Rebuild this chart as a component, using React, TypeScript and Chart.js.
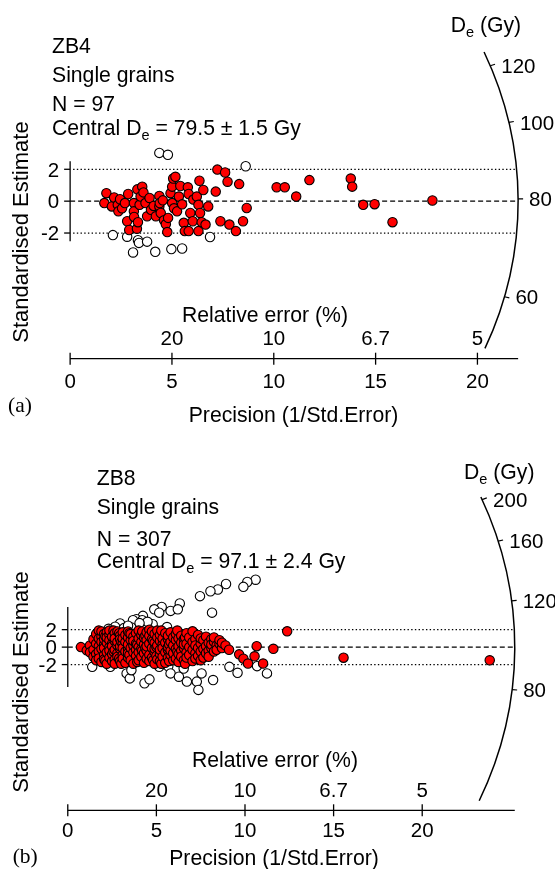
import { useEffect, useRef } from "react";
import { Chart, registerables } from "chart.js";

Chart.register(...registerables);

const W = 555;
const H = 869;
const SANS = '"Liberation Sans", Arial, Helvetica, sans-serif';
const SERIF = '"Liberation Serif", "Times New Roman", serif';

// ---------- ZB4 : [precision, standardised estimate] ----------
const zb4Accepted: [number, number][] = [
  [1.68, -0.12], [1.78, 0.5], [2.05, -0.33], [2.16, 0.23], [2.34, -0.23], [2.37, -0.64], [2.45, 0.12], [2.55, -0.45],
  [2.69, -0.12], [2.8, -1.26], [2.85, 0.45], [2.9, -1.81], [3.13, -0.12], [3.13, -0.64], [3.14, -0.99], [3.28, -1.73],
  [3.3, 0.74], [3.33, -1.32], [3.41, -0.23], [3.46, 0.29], [3.54, 0.91], [3.6, 0.55], [3.7, -0.12], [3.78, -0.95],
  [3.9, 0.2], [3.97, -0.54], [4.1, -0.3], [4.21, -0.95], [4.38, 0.33], [4.38, -0.33], [4.4, -0.12], [4.45, -0.74],
  [4.55, 0.05], [4.61, -1.2], [4.7, -1.45], [4.77, -1.94], [4.81, -1.05], [4.93, 0.5], [5.01, 0.91], [5.01, -0.12],
  [5.06, 1.42], [5.1, -0.45], [5.17, 1.53], [5.25, -0.64], [5.34, 0.29], [5.41, 0.95], [5.5, -0.2], [5.58, -1.36],
  [5.63, -1.88], [5.78, 0.87], [5.82, 0.45], [5.82, -1.88], [5.9, -0.74], [6.02, -1.26], [6.05, 0.1], [6.22, 0.29],
  [6.3, -0.23], [6.3, -1.88], [6.35, 1.28], [6.38, -0.74], [6.46, -1.32], [6.54, 0.7], [6.65, -1.47], [6.78, -0.33],
  [7.15, 0.6], [7.23, 1.98], [7.38, -1.26], [7.61, 1.8], [7.73, 1.22], [7.82, -1.47], [8.14, -1.88], [8.3, 1.07],
  [8.49, -1.26], [8.67, -0.43], [10.14, 0.87], [10.54, 0.87], [11.1, 0.29], [11.75, 1.32], [13.78, 1.42], [13.85, 0.91],
  [14.39, -0.23], [14.95, -0.19], [15.83, -1.32], [17.79, 0.04],
];
const zb4Rejected: [number, number][] = [
  [4.38, 3.03], [4.8, 2.91], [8.62, 2.19], [2.1, -2.13], [2.8, -2.23], [3.33, -2.45], [3.38, -2.62],
  [3.78, -2.54], [3.09, -3.22], [4.18, -3.18], [4.97, -3.01], [5.5, -2.97], [6.87, -2.25],
];
const zb4N = 97;
const zb4Central = 79.5;
const zb4CentralErr = 1.5;
const zb4DeTicks = [60, 80, 100, 120];
const zb4ArcRange: [number, number] = [50.5, 126];

// ---------- ZB8 : [precision, standardised estimate] ----------
const zb8Accepted: [number, number][] = [
  [0.74, 0.0], [1.07, -0.37], [1.25, 0.2], [1.25, -0.6],
  [1.45, 0.9], [1.45, -0.3], [1.45, -1.1],
  [1.6, 1.5], [1.6, 0.4], [1.6, -0.8], [1.6, -1.5],
  [1.75, 1.9], [1.75, 0.1], [1.75, -0.5], [1.75, 1.0], [1.75, -1.3],
  [1.9, 1.2], [1.9, -0.2], [1.9, 0.6], [1.9, -1.7], [1.9, 1.8],
  [2.05, 0.3], [2.05, -0.9], [2.05, 1.5], [2.05, -1.4], [2.05, 0.9], [2.05, -0.1],
  [2.12, 1.25], [2.12, -1.55],
  [2.2, 1.7], [2.2, -0.6], [2.2, 0.5], [2.2, -1.9], [2.2, 1.1],
  [2.35, 0.0], [2.35, 1.4], [2.35, -1.2], [2.35, 0.8], [2.35, -0.4], [2.35, 1.9],
  [2.5, -1.6], [2.5, 0.4], [2.5, 1.2], [2.5, -0.8], [2.5, 0.1],
  [2.58, 1.9], [2.58, -0.5],
  [2.65, 1.6], [2.65, -0.3], [2.65, 0.7], [2.65, -1.4], [2.65, 1.0], [2.65, -1.9],
  [2.8, 0.2], [2.8, -0.7], [2.8, 1.8], [2.8, -1.1], [2.8, 0.6],
  [2.9, 1.6], [2.9, -1.3],
  [2.95, -0.2], [2.95, 1.3], [2.95, -1.6], [2.95, 0.9], [2.95, 0.1],
  [3.02, 0.6], [3.02, -1.9],
  [3.1, 1.7], [3.1, -0.9], [3.1, 0.4], [3.1, -1.3], [3.1, -0.1], [3.1, 1.0],
  [3.25, 0.6], [3.25, -1.8], [3.25, 1.4], [3.25, -0.5],
  [3.4, -0.2], [3.4, 1.1], [3.4, -1.2], [3.4, 0.3], [3.4, 1.8], [3.4, -0.7],
  [3.48, 1.6], [3.48, -0.9],
  [3.55, 0.8], [3.55, -1.5], [3.55, 1.5], [3.55, -0.1],
  [3.7, -0.6], [3.7, 0.2], [3.7, 1.2], [3.7, -1.9], [3.7, 0.7],
  [3.85, 1.6], [3.85, -0.3], [3.85, -1.0], [3.85, 0.4],
  [3.92, 0.3], [3.92, -1.7],
  [4.0, 0.0], [4.0, 1.0], [4.0, -1.5], [4.0, -0.6], [4.0, 1.9],
  [4.15, 0.6], [4.15, -1.1], [4.15, 1.4], [4.15, -0.2],
  [4.2, 1.8], [4.2, -0.4],
  [4.3, -1.8], [4.3, 0.3], [4.3, 1.1], [4.3, -0.7],
  [4.38, 1.3], [4.38, -0.1],
  [4.45, 1.7], [4.45, -0.4], [4.45, 0.8], [4.45, -1.3], [4.45, 0.1],
  [4.6, 2.0], [4.6, -0.9], [4.6, 0.4], [4.6, 1.3], [4.6, -1.6],
  [4.75, -0.1], [4.75, 0.9], [4.75, -1.2], [4.75, 1.8],
  [4.82, -1.5], [4.82, 0.7],
  [4.9, 0.5], [4.9, -0.6], [4.9, 1.5], [4.9, -1.9], [4.9, -0.2],
  [5.0, 0.0], [5.0, -1.0],
  [5.05, 1.1], [5.05, -1.4], [5.05, 0.2], [5.05, 1.9],
  [5.2, -0.8], [5.2, 0.7], [5.2, -0.3], [5.2, 1.4], [5.2, -1.6],
  [5.28, 1.9], [5.28, -1.9],
  [5.35, 0.3], [5.35, -1.1], [5.35, 1.0], [5.35, -0.1],
  [5.5, 1.6], [5.5, -0.6], [5.5, 0.5], [5.5, -1.8],
  [5.65, -0.3], [5.65, 0.9], [5.65, -1.2], [5.65, 1.3], [5.65, 0.0],
  [5.72, 0.3], [5.72, -1.6],
  [5.8, 0.6], [5.8, -0.9], [5.8, 1.7], [5.8, -0.4],
  [5.95, -1.5], [5.95, 0.2], [5.95, 1.1], [5.95, -0.7],
  [6.1, 0.8], [6.1, -0.2], [6.1, -1.3], [6.1, 1.5],
  [6.18, 1.9], [6.18, -0.5],
  [6.25, 0.1], [6.25, -0.8], [6.25, 1.0], [6.25, -1.7],
  [6.4, 1.3], [6.4, -0.4], [6.4, 0.5], [6.4, -1.1],
  [6.55, -0.1], [6.55, 0.9], [6.55, -1.5], [6.55, 0.3],
  [6.62, -1.9], [6.62, 1.1],
  [6.7, 1.6], [6.7, -0.6], [6.7, 0.4], [6.7, -1.2],
  [6.85, 0.0], [6.85, -0.9], [6.85, 1.1],
  [7.04, 1.81], [7.04, -0.3], [7.04, 0.6], [7.04, -1.6],
  [7.2, 0.9], [7.2, -0.7], [7.2, 0.2], [7.2, -1.3],
  [7.35, 1.4], [7.35, -0.1], [7.35, -1.0],
  [7.5, 0.4], [7.5, -0.5], [7.5, 1.0], [7.5, -1.5],
  [7.65, -0.2], [7.65, 0.8], [7.65, -1.2],
  [7.8, 1.2], [7.8, 0.1], [7.8, -0.7],
  [7.95, 0.5], [7.95, -0.4], [7.95, -1.1],
  [8.1, 0.9], [8.1, -0.1], [8.1, 0.3],
  [8.25, -0.5], [8.25, 0.6], [8.25, 1.1],
  [8.4, 0.2], [8.4, -0.3],
  [8.56, 0.38], [8.56, 0.8],
  [8.7, -0.1], [8.7, 0.5],
  [8.9, 0.2], [9.1, -0.3],
  [9.67, -0.83], [9.91, -1.32], [10.17, -1.88], [10.54, -1.05], [10.66, 0.11],
  [11.02, -1.88], [11.6, -0.19], [12.38, 1.81], [15.56, -1.21], [23.81, -1.51],
];
const zb8Rejected: [number, number][] = [
  [10.6, 7.72], [10.13, 7.46], [9.91, 6.9], [8.93, 7.23], [8.47, 6.6], [8.05, 6.4], [7.46, 5.84], [8.14, 3.95],
  [6.32, 5.0], [5.8, 4.15], [6.21, 4.33], [5.3, 4.6], [4.88, 4.33], [5.16, 3.95], [4.24, 3.58], [3.87, 3.2],
  [4.2, 3.08], [4.79, 2.63], [3.68, 3.08], [2.95, 2.71], [2.67, 2.34], [3.17, 2.18], [3.59, 2.26], [5.52, 2.05],
  [2.3, 2.1], [4.5, 2.9], [3.4, 2.45], [5.6, 2.3], [4.05, 2.75],
  [1.38, -2.26], [2.4, -2.26], [3.32, -3.01], [3.5, -3.58], [3.59, -2.64], [4.33, -4.14], [4.61, -3.69],
  [5.16, -2.26], [5.67, -2.2], [5.8, -3.01], [6.27, -3.39], [6.54, -2.45], [6.72, -3.95], [7.28, -3.95],
  [7.37, -4.9], [7.55, -3.01], [8.2, -3.77], [9.12, -2.26], [9.58, -2.94], [10.68, -2.18], [11.24, -3.01],
];
const zb8N = 307;
const zb8Central = 97.1;
const zb8CentralErr = 2.4;
const zb8DeTicks = [80, 120, 160, 200];
const zb8ArcRange: [number, number] = [45.5, 203];

// ---------- shared axes ----------
const precisionTicks = [0, 5, 10, 15, 20];
const relErrorAt = [5, 10, 15, 20];
const standardTicks = [-2, 0, 2];

type Layout = {
  ox: number; oy: number; ux: number; uy: number; rx: number; ry: number;
  axisY: number; tickBase: number; relBase: number;
  relTitle: [number, number]; precTitle: [number, number]; letterPos: [number, number];
  textX: number; lines: number[]; deLabel: [number, number]; stdTitle: [number, number];
};
type Panel = {
  xId: string; yId: string; letter: string; name: string; n: number; central: number; err: number;
  accepted: [number, number][]; rejected: [number, number][]; deTicks: number[]; arcRange: [number, number];
  layout: Layout;
};

const panels: Panel[] = [
  {
    xId: "xa", yId: "ya", letter: "(a)", name: "ZB4", n: zb4N, central: zb4Central, err: zb4CentralErr,
    accepted: zb4Accepted, rejected: zb4Rejected, deTicks: zb4DeTicks, arcRange: zb4ArcRange,
    layout: {
      ox: 65.7, oy: 198, ux: 20.8, uy: 16.15, rx: 448, ry: 390,
      axisY: 358.7, tickBase: 29.6, relBase: -13.7,
      relTitle: [265, 321.7], precTitle: [293.5, 421.7], letterPos: [8, 412],
      textX: 52, lines: [53.3, 81.7, 111, 135], deLabel: [450.7, 31.7], stdTitle: [22, 232],
    },
  },
  {
    xId: "xb", yId: "yb", letter: "(b)", name: "ZB8", n: zb8N, central: zb8Central, err: zb8CentralErr,
    accepted: zb8Accepted, rejected: zb8Rejected, deTicks: zb8DeTicks, arcRange: zb8ArcRange,
    layout: {
      ox: 63.3, oy: 650, ux: 18.1, uy: 8.85, rx: 447, ry: 393,
      axisY: 810.3, tickBase: 26.4, relBase: -13.6,
      relTitle: [275, 766.7], precTitle: [274, 865], letterPos: [12.7, 862.7],
      textX: 96.7, lines: [485, 514, 546, 568.3], deLabel: [464, 479.3], stdTitle: [22, 682],
    },
  },
];

const FS = 21.2;
const TICK_FS = 20.5;
const SUB = 14.5;

function drawRich(ctx: CanvasRenderingContext2D, parts: { t: string; sub?: boolean }[], x: number, y: number) {
  let cx = x;
  ctx.textAlign = "left";
  ctx.textBaseline = "alphabetic";
  for (const p of parts) {
    ctx.font = `${p.sub ? SUB : FS}px ${SANS}`;
    ctx.fillText(p.t, cx, p.sub ? y + 5 : y);
    cx += ctx.measureText(p.t).width;
  }
}

function fmtRel(p: number) {
  return String(Number((100 / p).toFixed(1)));
}

function drawPanelFrame(chart: Chart, p: Panel) {
  const ctx = chart.ctx;
  const xs = chart.scales[p.xId];
  const ys = chart.scales[p.yId];
  const L = p.layout;
  const ox = xs.getPixelForValue(0);
  const oy = ys.getPixelForValue(0);
  const ux = xs.getPixelForValue(1) - ox;
  const uy = oy - ys.getPixelForValue(1);

  const ray = (de: number) => {
    const s = Math.log(de / p.central);
    const dx = ux;
    const dy = -uy * s;
    const t = 1 / Math.hypot(dx / L.rx, dy / L.ry);
    const len = Math.hypot(dx, dy);
    return { x: ox + dx * t, y: oy + dy * t, nx: dx / len, ny: dy / len, phi: Math.atan2(dy / L.ry, dx / L.rx) };
  };
  const arcX = (py: number) => ox + L.rx * Math.sqrt(Math.max(0, 1 - ((py - oy) / L.ry) ** 2));

  ctx.save();
  ctx.strokeStyle = "#000";
  ctx.fillStyle = "#000";

  // +/-2 band (dotted) and central value (dashed)
  ctx.lineWidth = 1.3;
  ctx.setLineDash([1.4, 2.3]);
  for (const v of [2, -2]) {
    const py = ys.getPixelForValue(v);
    ctx.beginPath();
    ctx.moveTo(ox + 3, py);
    ctx.lineTo(arcX(py), py);
    ctx.stroke();
  }
  ctx.setLineDash([5, 3]);
  ctx.beginPath();
  ctx.moveTo(ox, oy);
  ctx.lineTo(arcX(oy), oy);
  ctx.stroke();
  ctx.setLineDash([]);

  // radial De scale
  const top = ray(p.arcRange[1]);
  const bot = ray(p.arcRange[0]);
  ctx.lineWidth = 1.5;
  ctx.beginPath();
  ctx.ellipse(ox, oy, L.rx, L.ry, 0, top.phi, bot.phi, false);
  ctx.stroke();
  ctx.lineWidth = 1.2;
  ctx.font = `${TICK_FS}px ${SANS}`;
  ctx.textAlign = "left";
  ctx.textBaseline = "alphabetic";
  for (const de of p.deTicks) {
    const r = ray(de);
    ctx.beginPath();
    ctx.moveTo(r.x, r.y);
    ctx.lineTo(r.x + r.nx * 5, r.y + r.ny * 5);
    ctx.stroke();
    ctx.fillText(String(de), r.x + 11, r.y + 7.3);
  }
  drawRich(ctx, [{ t: "D" }, { t: "e", sub: true }, { t: " (Gy)" }], L.deLabel[0], L.deLabel[1]);

  // standardised estimate axis
  ctx.lineWidth = 1.3;
  ctx.beginPath();
  ctx.moveTo(ox, oy - 40);
  ctx.lineTo(ox, oy + 40);
  ctx.stroke();
  ctx.font = `${TICK_FS}px ${SANS}`;
  ctx.textAlign = "right";
  for (const v of standardTicks) {
    const py = ys.getPixelForValue(v);
    ctx.beginPath();
    ctx.moveTo(ox - 6, py);
    ctx.lineTo(ox, py);
    ctx.stroke();
    ctx.fillText(String(v), ox - 11, py + 7.3);
  }
  ctx.save();
  ctx.translate(L.stdTitle[0], L.stdTitle[1]);
  ctx.rotate(-Math.PI / 2);
  ctx.font = `22px ${SANS}`;
  ctx.textAlign = "center";
  ctx.textBaseline = "middle";
  ctx.fillText("Standardised Estimate", 0, 0);
  ctx.restore();

  // precision axis with relative-error labels above
  const ay = L.axisY;
  ctx.lineWidth = 1.3;
  ctx.beginPath();
  ctx.moveTo(ox, ay);
  ctx.lineTo(ox + L.rx, ay);
  ctx.stroke();
  ctx.textAlign = "center";
  ctx.font = `${TICK_FS}px ${SANS}`;
  for (const v of precisionTicks) {
    const px = xs.getPixelForValue(v);
    ctx.beginPath();
    ctx.moveTo(px, ay - 6);
    ctx.lineTo(px, ay + 6);
    ctx.stroke();
    ctx.fillText(String(v), px, ay + L.tickBase);
  }
  for (const v of relErrorAt) {
    const px = xs.getPixelForValue(v);
    ctx.fillText(fmtRel(v), px, ay + L.relBase);
  }
  ctx.font = `${FS}px ${SANS}`;
  ctx.fillText("Relative error (%)", L.relTitle[0], L.relTitle[1]);
  ctx.fillText("Precision (1/Std.Error)", L.precTitle[0], L.precTitle[1]);

  ctx.textAlign = "left";
  ctx.font = `21.5px ${SERIF}`;
  ctx.fillText(p.letter, L.letterPos[0], L.letterPos[1]);

  // sample summary
  ctx.font = `${FS}px ${SANS}`;
  ctx.fillText(p.name, L.textX, L.lines[0]);
  ctx.fillText("Single grains", L.textX, L.lines[1]);
  ctx.fillText(`N = ${p.n}`, L.textX, L.lines[2]);
  drawRich(
    ctx,
    [{ t: "Central D" }, { t: "e", sub: true }, { t: ` = ${p.central.toFixed(1)} \u00b1 ${p.err.toFixed(1)} Gy` }],
    L.textX,
    L.lines[3]
  );
  ctx.restore();
}

const radialFrame = {
  id: "radialFrame",
  beforeDatasetsDraw(chart: Chart) {
    const ctx = chart.ctx;
    ctx.save();
    ctx.fillStyle = "#fff";
    ctx.fillRect(0, 0, chart.width, chart.height);
    ctx.restore();
    for (const p of panels) drawPanelFrame(chart, p);
  },
};

function buildScales() {
  const scales: Record<string, object> = {};
  for (const p of panels) {
    const L = p.layout;
    scales[p.xId] = { type: "linear", axis: "x", position: "bottom", display: false, min: -L.ox / L.ux, max: (W - L.ox) / L.ux };
    scales[p.yId] = { type: "linear", axis: "y", position: "left", display: false, min: -(H - L.oy) / L.uy, max: L.oy / L.uy };
  }
  return scales;
}

function buildDatasets() {
  const sets: object[] = [];
  for (const p of panels) {
    sets.push({
      label: `${p.name} rejected`,
      data: p.rejected.map(([x, y]) => ({ x, y })),
      xAxisID: p.xId, yAxisID: p.yId, order: 2,
      pointRadius: 4.7, pointBackgroundColor: "#ffffff", pointBorderColor: "#000000", pointBorderWidth: 1.1,
      showLine: false, clip: false,
    });
    sets.push({
      label: `${p.name} accepted`,
      data: p.accepted.map(([x, y]) => ({ x, y })),
      xAxisID: p.xId, yAxisID: p.yId, order: 1,
      pointRadius: 4.7, pointBackgroundColor: "#ff0000", pointBorderColor: "#000000", pointBorderWidth: 1.1,
      showLine: false, clip: false,
    });
  }
  return sets;
}

export default function App() {
  const ref = useRef<HTMLCanvasElement>(null);
  useEffect(() => {
    if (!ref.current) return;
    const chart = new Chart(ref.current, {
      type: "scatter",
      data: { datasets: buildDatasets() as any },
      options: {
        responsive: false,
        animation: false,
        events: [],
        layout: { padding: 0 },
        plugins: { legend: { display: false }, tooltip: { enabled: false }, title: { display: false } },
        scales: buildScales() as any,
      },
      plugins: [radialFrame],
    });
    return () => chart.destroy();
  }, []);
  return (
    <div style={{ position: "absolute", left: 0, top: 0, width: W, height: H, background: "#fff" }}>
      <canvas ref={ref} width={W} height={H} style={{ display: "block", width: W, height: H }} />
    </div>
  );
}
